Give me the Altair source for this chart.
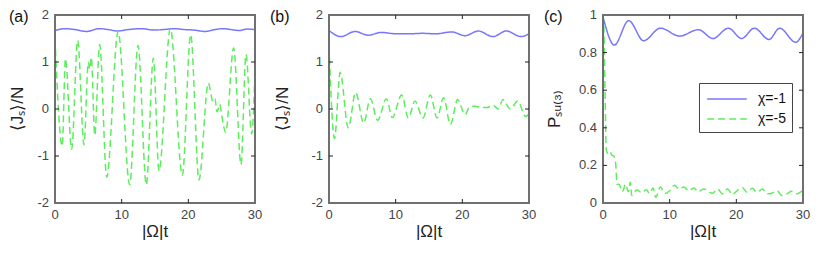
import altair as alt
import pandas as pd

FONT = "Liberation Sans"
SERIES = ["χ=-1", "χ=-5"]
BLUE = "#7676ff"
GREEN = "#5cee5c"

# ---------------- panel (a) ----------------
a_blue_t = [0, 1.5, 3.0, 4.7, 6.7, 8.0, 9.4, 11.0, 13.0, 14.8, 16.3, 17.9, 19.4, 20.8, 22.5, 24.0, 25.2, 26.4, 27.6, 28.8, 30]
a_blue_v = [1.67, 1.71, 1.69, 1.65, 1.71, 1.69, 1.66, 1.69, 1.71, 1.68, 1.69, 1.71, 1.69, 1.68, 1.65, 1.69, 1.71, 1.69, 1.67, 1.70, 1.69]
a_green_t = [0, 1.08, 1.57, 2.5, 3.4, 4.35, 5.0, 5.2, 5.45, 5.96, 6.7, 7.76, 9.47, 11.2, 12.45, 13.7,
             14.75, 15.6, 17.3, 19.1, 20.35, 21.6, 23.0, 23.7, 24.0, 24.3, 24.7, 25.05, 25.6, 26.8,
             27.9, 28.65, 29.5, 30]
a_green_v = [1.5, -0.79, 1.07, -0.86, 1.46, -0.76, 1.0, 0.85, 1.1, -0.56, 1.37, -1.45, 1.65, -1.61, 1.35, -1.61,
             1.08, -1.31, 1.71, -1.41, 1.58, -1.51, 0.55, 0.16, 0.22, -0.06, 0.1, -0.17, -0.5, 1.3,
             -1.18, 1.16, -0.53, 0.8]

# ---------------- panel (b) ----------------
b_blue_t = [0, 1.8, 3.9, 5.9, 7.8, 10, 12, 14, 16, 18.4, 20.4, 22.4, 24.6, 26.6, 28.8, 30]
b_blue_v = [1.67, 1.54, 1.65, 1.57, 1.63, 1.60, 1.60, 1.61, 1.60, 1.64, 1.56, 1.66, 1.54, 1.66, 1.54, 1.60]
b_green_t = [0, 0.83, 1.67, 2.9, 4.0, 5.2, 6.2, 7.3, 8.6, 9.5, 10.9, 11.9, 12.9, 14.1, 15.2, 16.2, 17.2,
             18.2, 19.3, 20.4, 21.15, 21.9, 22.7, 23.7, 24.6, 25.4, 26.1, 27.2, 28.3, 29.5, 30]
b_green_v = [1.33, -0.63, 0.78, -0.4, 0.35, -0.3, 0.22, -0.24, 0.22, -0.18, 0.3, -0.19, 0.17, -0.19, 0.3, -0.19, 0.24,
             -0.33, 0.2, -0.12, 0.05, 0.06, 0.04, 0.03, 0.08, 0.0, 0.2, 0.0, 0.17, -0.16, -0.1]

# ---------------- panel (c) ----------------
c_blue_t = [0, 1.7, 3.85, 6.1, 8.6, 11.5, 14.3, 16.5, 18.8, 20.8, 22.7, 24.9, 26.5, 28.9, 30]
c_blue_v = [0.99, 0.84, 0.97, 0.863, 0.93, 0.888, 0.922, 0.875, 0.93, 0.875, 0.93, 0.87, 0.93, 0.855, 0.905]
c_green_t = [0, 0.1, 0.3, 0.5, 0.8, 1.1, 1.3, 1.6, 1.9, 2.1, 2.4, 2.9, 3.4, 3.8, 4.1, 4.3, 5.1, 5.8, 6.5,
             7.0, 7.5, 7.9, 8.6, 9.3, 10.0, 10.7, 11.4, 12.1, 12.9, 13.6, 14.3, 15.1, 16.4, 17.2, 17.9,
             18.7, 19.4, 20.1, 20.9, 21.6, 22.4, 23.1, 23.9, 24.6, 25.3, 26.1, 26.8, 27.6, 28.3, 29.0, 29.9]
c_green_v = [1.0, 0.97, 0.6, 0.28, 0.26, 0.27, 0.255, 0.25, 0.21, 0.1, 0.1, 0.06, 0.1, 0.06, 0.11, 0.04, 0.07,
             0.055, 0.07, 0.05, 0.08, 0.03, 0.085, 0.05, 0.065, 0.095, 0.075, 0.085, 0.065, 0.08, 0.06, 0.075,
             0.052, 0.074, 0.049, 0.074, 0.044, 0.065, 0.082, 0.057, 0.078, 0.057, 0.074, 0.049, 0.052, 0.065,
             0.04, 0.049, 0.062, 0.049, 0.065]

# tick positions and tick label texts
x_ticks = [10, 20]
x_labels = [0, 10, 20, 30]
x_label_text = ["0", "10", "20", "30"]
y_ticks_ab = [-1, 0, 1]
y_labels_ab = [-2, -1, 0, 1, 2]
y_label_text_ab = ["-2", "-1", "0", "1", "2"]
y_ticks_c = [0.2, 0.4, 0.6, 0.8]
y_labels_c = [0, 0.2, 0.4, 0.6, 0.8, 1]
y_label_text_c = ["0", "0.2", "0.4", "0.6", "0.8", "1"]

W = 200
H = 188
FRAME = "#707070"
TICK = "#222222"
LABEL = "#444444"


def panel(tb, vb, tg, vg, ydom, ylabels, ytexts, yticks, ytitle, ytitle_x, label, label_x, legend):
    df = pd.DataFrame({
        "t": tb + tg,
        "v": vb + vg,
        "s": [SERIES[0]] * len(tb) + [SERIES[1]] * len(tg),
    })
    leg = None
    if legend:
        leg = alt.Legend(title=None, orient="none", legendX=96, legendY=68,
                         symbolType="M-2.2,0H2.2", symbolSize=324, symbolStrokeWidth=1.5,
                         symbolOffset=12, labelFontSize=14, labelFont=FONT, labelColor="#111",
                         labelOffset=21, rowPadding=3, padding=6, strokeColor="#444",
                         fillColor="white")
    xs = alt.Scale(domain=[0, 30], nice=False, zero=False)
    ys = alt.Scale(domain=ydom, nice=False, zero=False)
    lines = alt.Chart(df).mark_line(strokeWidth=1.5, interpolate="monotone").encode(
        x=alt.X("t:Q", scale=xs, axis=None),
        y=alt.Y("v:Q", scale=ys, axis=None),
        color=alt.Color("s:N", scale=alt.Scale(domain=SERIES, range=[BLUE, GREEN]), legend=leg),
        strokeDash=alt.StrokeDash("s:N", scale=alt.Scale(domain=SERIES, range=[[1, 0], [7, 4]]), legend=leg),
    )
    # box around the plot area, placed through the data scales
    box = alt.Chart(pd.DataFrame({"x0": [0], "x1": [30], "y0": [ydom[0]], "y1": [ydom[1]]})).mark_rect(
        fillOpacity=0, stroke=FRAME, strokeWidth=2
    ).encode(x=alt.X("x0:Q", scale=xs, axis=None), x2="x1:Q",
             y=alt.Y("y0:Q", scale=ys, axis=None), y2="y1:Q")
    # inward ticks on the four edges (positions go through the shared scales)
    xt = pd.DataFrame({"t": x_ticks})
    yt = pd.DataFrame({"v": yticks})
    tick_b = alt.Chart(xt).mark_rule(color=TICK, strokeWidth=1).encode(
        x=alt.X("t:Q", scale=xs, axis=None), y=alt.value(H), y2=alt.value(H - 4))
    tick_t = alt.Chart(xt).mark_rule(color=TICK, strokeWidth=1).encode(
        x=alt.X("t:Q", scale=xs, axis=None), y=alt.value(0), y2=alt.value(4))
    tick_l = alt.Chart(yt).mark_rule(color=TICK, strokeWidth=1).encode(
        y=alt.Y("v:Q", scale=ys, axis=None), x=alt.value(0), x2=alt.value(4))
    tick_r = alt.Chart(yt).mark_rule(color=TICK, strokeWidth=1).encode(
        y=alt.Y("v:Q", scale=ys, axis=None), x=alt.value(W), x2=alt.value(W - 4))
    # tick labels
    xl = pd.DataFrame({"t": x_labels, "txt": x_label_text})
    yl = pd.DataFrame({"v": ylabels, "txt": ytexts})
    xlab = alt.Chart(xl).mark_text(baseline="top", align="center", fontSize=13, font=FONT, color=LABEL).encode(
        x=alt.X("t:Q", scale=xs, axis=None), y=alt.value(H + 6), text="txt:N")
    ylab = alt.Chart(yl).mark_text(baseline="middle", align="right", fontSize=13, font=FONT, color=LABEL).encode(
        y=alt.Y("v:Q", scale=ys, axis=None), x=alt.value(-6), text="txt:N")
    # axis titles
    xtit = alt.Chart(pd.DataFrame({"txt": ["|Ω|t"]})).mark_text(
        baseline="top", align="center", fontSize=17, font=FONT, color="#222"
    ).encode(text="txt:N", x=alt.value(W / 2), y=alt.value(H + 21))
    ytit = alt.Chart(pd.DataFrame({"txt": [ytitle]})).mark_text(
        baseline="middle", align="center", angle=270, fontSize=17, font=FONT, color="#222"
    ).encode(text="txt:N", x=alt.value(ytitle_x), y=alt.value(H / 2))
    lab = alt.Chart(pd.DataFrame({"txt": [label]})).mark_text(
        align="left", baseline="top", fontSize=16, font=FONT, color="#111"
    ).encode(text="txt:N", x=alt.value(label_x), y=alt.value(-6))
    return alt.layer(lines, box, tick_b, tick_t, tick_l, tick_r, xlab, ylab, xtit, ytit, lab).properties(
        width=W, height=H)


pa = panel(a_blue_t, a_blue_v, a_green_t, a_green_v, [-2, 2], y_labels_ab, y_label_text_ab, y_ticks_ab,
           "⟨Jₛ⟩/N", -37, "(a)", -46, False)
pb = panel(b_blue_t, b_blue_v, b_green_t, b_green_v, [-2, 2], y_labels_ab, y_label_text_ab, y_ticks_ab,
           "⟨Jₛ⟩/N", -46, "(b)", -59, False)
pc = panel(c_blue_t, c_blue_v, c_green_t, c_green_v, [0, 1], y_labels_c, y_label_text_c, y_ticks_c,
           "Pₛᵤ₍₃₎", -48, "(c)", -59, True)

chart = alt.hconcat(pa, pb, pc, spacing=5).resolve_scale(
    color="independent", strokeDash="independent"
).resolve_legend(color="independent", strokeDash="independent").configure(
    font=FONT, padding={"left": 0, "top": 0, "right": 0, "bottom": 0}
).configure_view(stroke=FRAME, strokeWidth=2)

chart.save("out.html", embed_options={"renderer": "svg", "actions": False})
